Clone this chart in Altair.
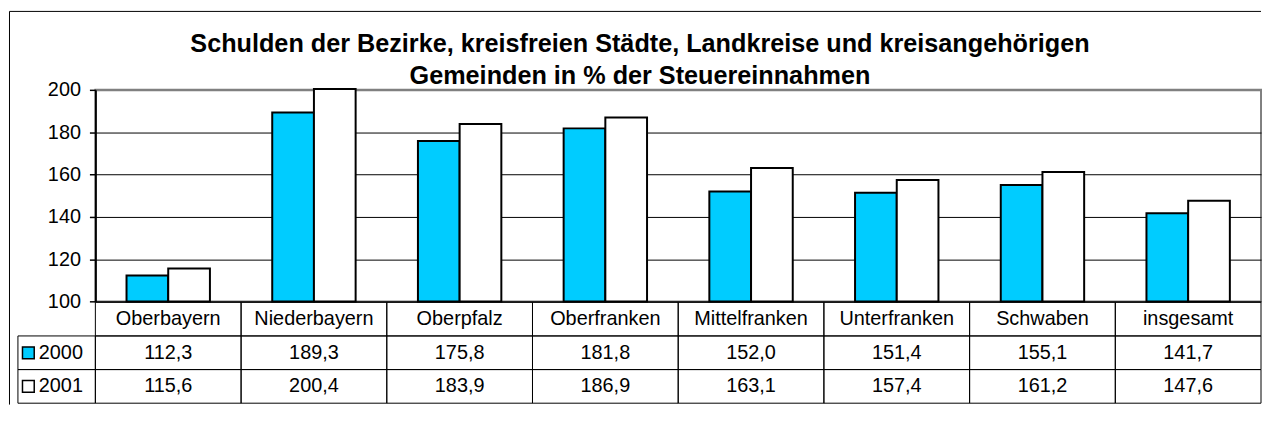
import altair as alt
import pandas as pd

# ---- data ----
categories = ["Oberbayern", "Niederbayern", "Oberpfalz", "Oberfranken",
              "Mittelfranken", "Unterfranken", "Schwaben", "insgesamt"]
values_2000 = [112.3, 189.3, 175.8, 181.8, 152.0, 151.4, 155.1, 141.7]
values_2001 = [115.6, 200.4, 183.9, 186.9, 163.1, 157.4, 161.2, 147.6]
years = ["2000", "2001"]
year_colors = ["#00CCFF", "#FFFFFF"]
y_ticks = [100, 120, 140, 160, 180, 200]
title_lines = [
    "Schulden der Bezirke, kreisfreien Städte, Landkreise und kreisangehörigen",
    "Gemeinden in % der Steuereinnahmen",
]

FONT = "Liberation Sans"
FS = 20
W = 1174
H = 213.2
TABLE_H = 101.6


def de(v):
    return f"{v:.1f}".replace(".", ",")


bars_df = pd.DataFrame({
    "Bezirk": categories * 2,
    "Jahr": [years[0]] * len(categories) + [years[1]] * len(categories),
    "Wert": values_2000 + values_2001,
})

row_keys = ["Bezirk", "2000", "2001"]
table_df = pd.DataFrame({
    "Spalte": categories * 3,
    "Zeile": ["Bezirk"] * 8 + ["2000"] * 8 + ["2001"] * 8,
    "Text": categories + [de(v) for v in values_2000] + [de(v) for v in values_2001],
})
legend_df = pd.DataFrame({"Zeile": years, "Jahr": years})
one = pd.DataFrame({"k": [0]})

color_scale = alt.Scale(domain=years, range=year_colors)

# ---- bar chart ----
y_axis = alt.Axis(
    values=y_ticks, title=None, grid=True,
    gridColor={"condition": {"test": "datum.value === 200", "value": "#808080"}, "value": "black"},
    gridWidth={"condition": {"test": "datum.value === 200", "value": 2}, "value": 1},
    domainColor="black", domainWidth=2,
    tickColor="black", tickWidth=1.5, tickSize=6,
    labelPadding=9, labelFont=FONT, labelFontSize=FS, labelColor="black",
)

bars = alt.Chart(bars_df).mark_bar(stroke="black", strokeWidth=2).encode(
    x=alt.X("Bezirk:N", scale=alt.Scale(domain=categories, paddingInner=0.4276,
                                        paddingOuter=0.2138), axis=None),
    xOffset=alt.XOffset("Jahr:N", scale=alt.Scale(domain=years, paddingInner=0, paddingOuter=0)),
    y=alt.Y("Wert:Q", scale=alt.Scale(domain=[100, 200], nice=False, zero=False), axis=y_axis),
    y2=alt.datum(100),
    fill=alt.Fill("Jahr:N", scale=color_scale, legend=None),
)

frame_left = alt.Chart(one).mark_rule(color="black", strokeWidth=1).encode(
    x=alt.value(-86.5), y=alt.value(-79), y2=alt.value(317))
frame_top = alt.Chart(one).mark_rule(color="black", strokeWidth=1).encode(
    x=alt.value(-86.5), x2=alt.value(W), y=alt.value(-79))

t1 = alt.Chart(one).mark_text(text=title_lines[0], font=FONT, fontSize=25.4, fontWeight="bold",
                              align="center", baseline="alphabetic", color="black").encode(
    x=alt.value(548.5), y=alt.value(-38.5))
t2 = alt.Chart(one).mark_text(text=title_lines[1], font=FONT, fontSize=25.4, fontWeight="bold",
                              align="center", baseline="alphabetic", color="black").encode(
    x=alt.value(548.5), y=alt.value(-5.8))

top = alt.layer(frame_left, frame_top, t1, t2, bars).properties(
    width=W, height=H, view=alt.ViewBackground(stroke="#808080", strokeWidth=2))

# ---- data table ----
x_tab = alt.X("Spalte:N", scale=alt.Scale(domain=categories, paddingInner=0, paddingOuter=0), axis=None)
y_tab = alt.Y("Zeile:N", scale=alt.Scale(domain=row_keys, paddingInner=0, paddingOuter=0), axis=None)

cells = alt.Chart(table_df).mark_rect(fillOpacity=0, stroke="black", strokeWidth=1).encode(x=x_tab, y=y_tab)
texts = alt.Chart(table_df).mark_text(font=FONT, fontSize=FS, color="black", baseline="middle").encode(
    x=x_tab, y=y_tab, text="Text:N")
leg_cells = alt.Chart(legend_df).mark_rect(fillOpacity=0, stroke="black", strokeWidth=1).encode(
    x=alt.value(-78), x2=alt.value(0), y=y_tab)
swatches = alt.Chart(legend_df).mark_point(shape="square", filled=True, size=140, stroke="black",
                                           strokeWidth=1.5, opacity=1).encode(
    x=alt.value(-67.5), y=y_tab, fill=alt.Fill("Jahr:N", scale=color_scale, legend=None))
leg_text = alt.Chart(legend_df).mark_text(align="left", font=FONT, fontSize=FS, color="black",
                                          baseline="middle").encode(
    x=alt.value(-57), y=y_tab, text="Jahr:N")

table = alt.layer(cells, texts, leg_cells, swatches, leg_text).properties(
    width=W, height=TABLE_H, view=alt.ViewBackground(stroke="transparent"))

chart = alt.vconcat(top, table, spacing=0, bounds="flush").resolve_scale(
    x="independent", y="independent").properties(padding=0).configure_view(stroke="transparent")

chart.save("out.html", embed_options={"renderer": "svg", "actions": False})
